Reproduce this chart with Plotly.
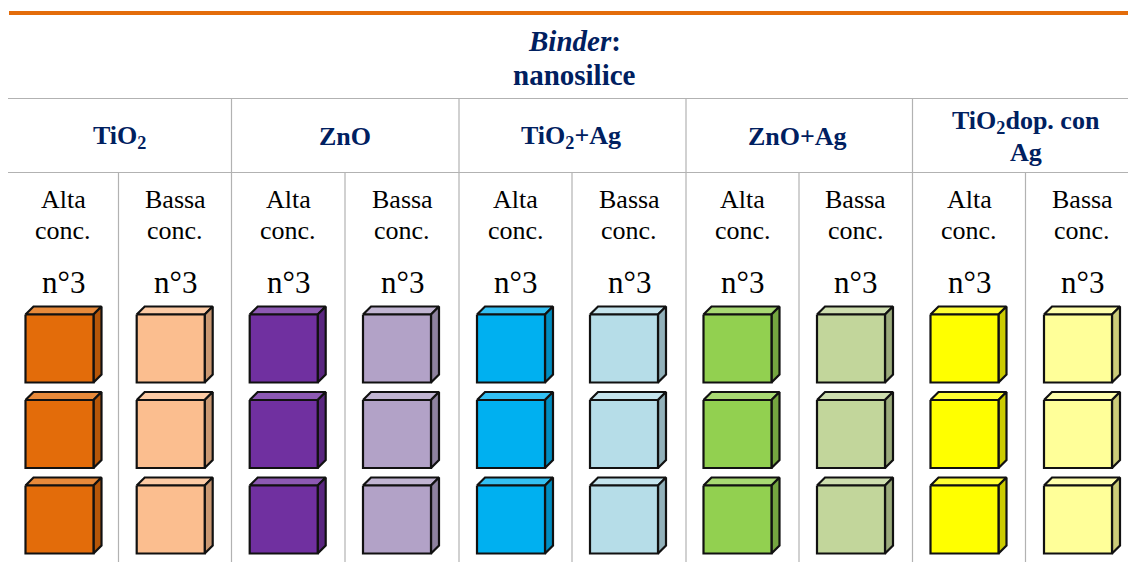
import plotly.graph_objects as go

# ---- data ----
title_lines = ["<b><i>Binder</i></b><b>:</b>", "<b>nanosilice</b>"]
groups = [["TiO<sub>2</sub>"], ["ZnO"], ["TiO<sub>2</sub>+Ag"], ["ZnO+Ag"], ["TiO<sub>2</sub>dop. con", "Ag"]]
concs = [["Alta", "conc."], ["Bassa", "conc."]]
count_label = "n°3"
front_colors = ["#E36C0A", "#FBBE8F", "#7030A0", "#B2A2C7", "#00B0F0",
                "#B6DDE8", "#92D050", "#C2D69B", "#FFFF00", "#FFFF99"]
top_colors = ["#E88A3A", "#FCCBA5", "#8D59B3", "#C1B5D2", "#33C0F3",
              "#C5E4ED", "#A8D973", "#CEDEAF", "#FFFF33", "#FFFFAD"]
side_colors = ["#B65608", "#C99872", "#5A2680", "#8E829F", "#008DC0",
               "#92B1BA", "#75A640", "#9BAB7C", "#CCCC00", "#CCCC7A"]
cube_x = [25.5, 136.7, 249.7, 363, 477, 590, 703.5, 817, 930.5, 1044]
cube_y = [314.5, 400, 485.5]
cube_w = 68
cube_d = 8
col_edges = [8, 118.5, 231.5, 345, 459, 572, 686, 799, 912.5, 1025.5, 1139]

NAVY = "#002060"
GRAY = "#B2B2B2"
SERIF = "Liberation Serif"

fig = go.Figure()

def seg(x, y, color, width):
    fig.add_trace(go.Scatter(x=x, y=y, mode="lines", line=dict(color=color, width=width),
                             hoverinfo="skip", showlegend=False))

def face(x, y, fill):
    fig.add_trace(go.Scatter(x=x, y=y, mode="lines", fill="toself", fillcolor=fill,
                             line=dict(color="#111111", width=2.2), hoverinfo="skip",
                             showlegend=False))

def text(x, y, s, size, color="#000000"):
    fig.add_annotation(x=x, y=y, text=s, showarrow=False, xref="x", yref="y",
                       font=dict(family=SERIF, size=size, color=color), align="center")

# rules
seg([9, 1128], [13, 13], "#E36C0A", 4)
seg([8, 1128], [98.5, 98.5], GRAY, 1.2)
seg([8, 1128], [172.5, 172.5], GRAY, 1.2)
for i in range(1, len(col_edges) - 1):
    seg([col_edges[i], col_edges[i]], [98.5 if i % 2 == 0 else 172.5, 562], GRAY, 1.2)

# title
text(574, 41, title_lines[0], 29, NAVY)
text(574, 75, title_lines[1], 29, NAVY)

# group headers
for g, lines in enumerate(groups):
    x_mid = (col_edges[2 * g] + col_edges[2 * g + 2]) / 2
    if len(lines) == 1:
        text(x_mid - (1.5 if g >= 2 else 0), 136.5, f"<b>{lines[0]}</b>", 26, NAVY)
    else:
        text(x_mid, 121.5, f"<b>{lines[0]}</b>", 26, NAVY)
        text(x_mid, 152, f"<b>{lines[1]}</b>", 26, NAVY)

# column labels and cubes
for c in range(len(front_colors)):
    mid = (col_edges[c] + col_edges[c + 1]) / 2
    text(mid, 199.5, concs[c % 2][0], 26)
    text(mid, 230.5, concs[c % 2][1], 26)
    text(mid, 282, count_label, 31)
    x0 = cube_x[c]
    for y0 in cube_y:
        x1, y1 = x0 + cube_w, y0 + cube_w
        face([x0, x1, x1 + cube_d, x0 + cube_d, x0], [y0, y0, y0 - cube_d, y0 - cube_d, y0], top_colors[c])
        face([x1, x1 + cube_d, x1 + cube_d, x1, x1], [y0, y0 - cube_d, y1 - cube_d, y1, y0], side_colors[c])
        face([x0, x1, x1, x0, x0], [y0, y0, y1, y1, y0], front_colors[c])

fig.update_layout(
    width=1128, height=562, margin=dict(l=0, r=0, t=0, b=0),
    paper_bgcolor="white", plot_bgcolor="white", showlegend=False,
    xaxis=dict(range=[0, 1128], visible=False, fixedrange=True),
    yaxis=dict(range=[562, 0], visible=False, fixedrange=True),
)
fig.write_html("out.html", config={"displayModeBar": False},
               post_script="document.body.style.margin='0';")
